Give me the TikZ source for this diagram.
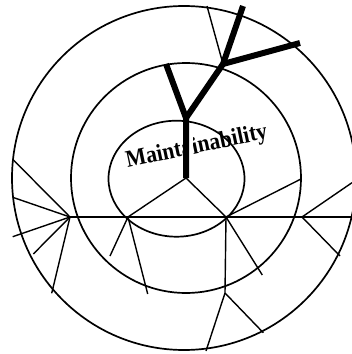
\documentclass[tikz,border=0pt]{standalone}
\usepackage{fontspec}
\setmainfont{Liberation Serif}
\usetikzlibrary{calc}

\begin{document}
\begin{tikzpicture}[x=1pt, y=-1pt,
    ring/.style={line width=1.7pt},
    spoke/.style={line width=1.4pt},
    trunk/.style={line width=6pt},
    title/.style={font=\fontsize{24}{24}\selectfont\bfseries, inner sep=0pt}]
  \useasboundingbox (0,0) rectangle (352,354);
  \clip (0,0) rectangle (352,354);
  % rings
  \draw[ring] (184,178) circle (172pt);
  \draw[ring] (186,178) circle (115pt);
  \draw[ring] (176.5,178.7) ellipse (68pt and 58pt);
  % points
  \coordinate (hub)      at (186,178);
  \coordinate (fork)     at (186,118);
  \coordinate (lefttip)  at (166,64);
  \coordinate (fork2)    at (223,64);
  \coordinate (toptip)   at (243,6);
  \coordinate (righttip) at (300,43);
  \coordinate (rimtop)   at (207,6);
  \coordinate (p1) at (70,217);
  \coordinate (p2) at (128,217);
  \coordinate (p3) at (226,217);
  \coordinate (p4) at (302,217);
  \coordinate (p5) at (225,293);
  \coordinate (e0) at (352,217);
  % spokes
  \draw[spoke] (p1) -- (p2) -- (p3) -- (p4) -- (e0);
  \draw[spoke] (p2) -- (hub) -- (p3);
  \draw[spoke] (p1) -- (12.7,159.3);
  \draw[spoke] (p1) -- (12.7,197.3);
  \draw[spoke] (p1) -- (12.7,236.7);
  \draw[spoke] (p1) -- (33.3,254);
  \draw[spoke] (p1) -- (51.7,293.3);
  \draw[spoke] (p2) -- (110,256);
  \draw[spoke] (p2) -- (147.7,294);
  \draw[spoke] (p3) -- (301,179);
  \draw[spoke] (p3) -- (262.3,275);
  \draw[spoke] (p3) -- (p5);
  \draw[spoke] (p5) -- (206,351);
  \draw[spoke] (p5) -- (263.3,332.7);
  \draw[spoke] (p4) -- (352,182.7);
  \draw[spoke] (p4) -- (340,256);
  \draw[spoke] (rimtop) -- (fork2);
  % label
  \node[title, anchor=base, rotate=12] (name) at (198,153) {\scalebox{0.9}[1]{Maintainability}};
  % tree
  \draw[white, line width=10pt] (187.5,136) -- (187.5,163);
  \draw[trunk] (hub) -- (fork) -- (lefttip);
  \draw[trunk] (fork) -- (fork2) -- (toptip);
  \draw[trunk] (fork2) -- (righttip);
\end{tikzpicture}
\end{document}
